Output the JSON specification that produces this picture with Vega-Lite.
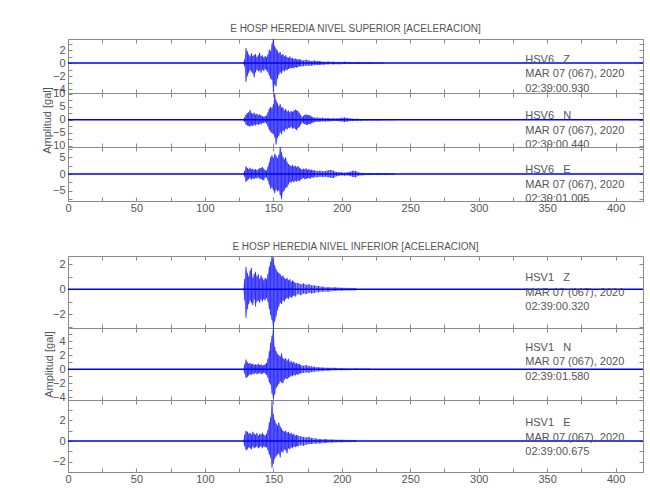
{
"$schema":"https://vega.github.io/schema/vega-lite/v6.json",
"background":"white",
"padding":{"left":40,"top":23,"right":5,"bottom":5},
"config":{"view":{"stroke":"#8a8a8a"},"axis":{"labelFont":"Liberation Sans","labelFontSize":11,"labelColor":"#555","tickColor":"#8a8a8a","titleFont":"Liberation Sans","titleFontSize":11,"titleFontWeight":"normal","titleColor":"#555","grid":false,"domain":false,"labelOverlap":false,"labelFlush":false,"labelPadding":3,"offset":-4,"tickSize":4},"title":{"font":"Liberation Sans","fontSize":10,"fontWeight":"normal","color":"#555","offset":4}},
"datasets":{
"base":[{"p":"A","x0":0,"x1":420},{"p":"B","x0":0,"x1":420},{"p":"C","x0":0,"x1":420},{"p":"D","x0":0,"x1":420},{"p":"E","x0":0,"x1":420},{"p":"F","x0":0,"x1":420}],
"ann":[{"p":"A","txt":["HSV6\u00a0\u00a0\u00a0Z","MAR 07 (067), 2020","02:39:00.930"]},{"p":"B","txt":["HSV6\u00a0\u00a0\u00a0N","MAR 07 (067), 2020","02:39:00.440"]},{"p":"C","txt":["HSV6\u00a0\u00a0\u00a0E","MAR 07 (067), 2020","02:39:01.005"]},{"p":"D","txt":["HSV1\u00a0\u00a0\u00a0Z","MAR 07 (067), 2020","02:39:00.320"]},{"p":"E","txt":["HSV1\u00a0\u00a0\u00a0N","MAR 07 (067), 2020","02:39:01.580"]},{"p":"F","txt":["HSV1\u00a0\u00a0\u00a0E","MAR 07 (067), 2020","02:39:00.675"]}],
"wave":[
{"p":"A","t":128,"h":0.1,"l":-0.1},{"p":"A","t":129,"h":0.6,"l":-0.5},{"p":"A","t":130,"h":2.3,"l":-2.9},{"p":"A","t":131,"h":1.8,"l":-2.0},{"p":"A","t":132,"h":1.3,"l":-1.5},{"p":"A","t":133,"h":1.0,"l":-1.1},{"p":"A","t":134,"h":1.5,"l":-1.3},{"p":"A","t":135,"h":1.1,"l":-1.6},{"p":"A","t":136,"h":1.2,"l":-2.2},{"p":"A","t":137,"h":1.4,"l":-1.4},{"p":"A","t":138,"h":0.9,"l":-1.0},{"p":"A","t":139,"h":1.2,"l":-1.3},{"p":"A","t":140,"h":1.6,"l":-1.1},{"p":"A","t":141,"h":1.0,"l":-1.5},{"p":"A","t":142,"h":1.2,"l":-1.0},{"p":"A","t":143,"h":0.8,"l":-1.2},{"p":"A","t":144,"h":1.1,"l":-0.9},{"p":"A","t":145,"h":0.9,"l":-1.1},{"p":"A","t":146,"h":1.3,"l":-1.4},{"p":"A","t":147,"h":2.1,"l":-1.9},{"p":"A","t":148,"h":1.8,"l":-2.4},{"p":"A","t":149,"h":3.0,"l":-2.6},{"p":"A","t":150,"h":3.7,"l":-4.4},{"p":"A","t":151,"h":2.6,"l":-3.3},{"p":"A","t":152,"h":2.2,"l":-3.6},{"p":"A","t":153,"h":1.9,"l":-2.4},{"p":"A","t":154,"h":1.5,"l":-1.8},{"p":"A","t":155,"h":1.7,"l":-1.4},{"p":"A","t":156,"h":1.2,"l":-1.6},{"p":"A","t":157,"h":1.4,"l":-1.1},{"p":"A","t":158,"h":1.0,"l":-1.3},{"p":"A","t":159,"h":1.2,"l":-1.0},{"p":"A","t":160,"h":0.9,"l":-1.1},{"p":"A","t":161,"h":0.8,"l":-0.9},{"p":"A","t":162,"h":1.0,"l":-0.8},{"p":"A","t":163,"h":0.7,"l":-0.8},{"p":"A","t":164,"h":0.8,"l":-0.7},{"p":"A","t":165,"h":0.6,"l":-0.8},{"p":"A","t":166,"h":0.7,"l":-0.6},{"p":"A","t":167,"h":0.6,"l":-0.7},{"p":"A","t":168,"h":0.5,"l":-0.6},{"p":"A","t":169,"h":0.6,"l":-0.5},{"p":"A","t":170,"h":0.5,"l":-0.5},{"p":"A","t":172,"h":0.4,"l":-0.5},{"p":"A","t":174,"h":0.5,"l":-0.4},{"p":"A","t":176,"h":0.4,"l":-0.4},{"p":"A","t":178,"h":0.3,"l":-0.4},{"p":"A","t":180,"h":0.4,"l":-0.3},{"p":"A","t":182,"h":0.3,"l":-0.3},{"p":"A","t":184,"h":0.3,"l":-0.3},{"p":"A","t":187,"h":0.2,"l":-0.25},{"p":"A","t":190,"h":0.25,"l":-0.2},{"p":"A","t":194,"h":0.2,"l":-0.2},{"p":"A","t":198,"h":0.15,"l":-0.2},{"p":"A","t":202,"h":0.2,"l":-0.15},{"p":"A","t":206,"h":0.15,"l":-0.15},{"p":"A","t":212,"h":0.15,"l":-0.15},{"p":"A","t":220,"h":0.12,"l":-0.12},{"p":"A","t":230,"h":0.12,"l":-0.12},
{"p":"B","t":128,"h":0.2,"l":-0.2},{"p":"B","t":129,"h":1.0,"l":-0.8},{"p":"B","t":130,"h":2.0,"l":-1.9},{"p":"B","t":131,"h":2.5,"l":-2.2},{"p":"B","t":132,"h":2.9,"l":-2.4},{"p":"B","t":133,"h":3.8,"l":-2.6},{"p":"B","t":134,"h":2.6,"l":-2.1},{"p":"B","t":135,"h":2.2,"l":-2.5},{"p":"B","t":136,"h":2.7,"l":-1.8},{"p":"B","t":137,"h":1.9,"l":-2.2},{"p":"B","t":138,"h":2.3,"l":-1.6},{"p":"B","t":139,"h":1.7,"l":-2.0},{"p":"B","t":140,"h":2.1,"l":-1.5},{"p":"B","t":141,"h":1.6,"l":-1.8},{"p":"B","t":142,"h":1.4,"l":-1.3},{"p":"B","t":143,"h":1.1,"l":-1.2},{"p":"B","t":144,"h":1.3,"l":-1.0},{"p":"B","t":145,"h":1.6,"l":-1.4},{"p":"B","t":146,"h":2.8,"l":-2.6},{"p":"B","t":147,"h":4.2,"l":-3.9},{"p":"B","t":148,"h":5.0,"l":-4.6},{"p":"B","t":149,"h":4.4,"l":-5.2},{"p":"B","t":150,"h":6.0,"l":-5.5},{"p":"B","t":151,"h":10.3,"l":-6.8},{"p":"B","t":152,"h":7.5,"l":-9.6},{"p":"B","t":153,"h":6.4,"l":-7.0},{"p":"B","t":154,"h":5.2,"l":-6.2},{"p":"B","t":155,"h":6.1,"l":-4.8},{"p":"B","t":156,"h":4.6,"l":-5.6},{"p":"B","t":157,"h":4.8,"l":-4.1},{"p":"B","t":158,"h":3.6,"l":-4.5},{"p":"B","t":159,"h":4.2,"l":-3.4},{"p":"B","t":160,"h":3.2,"l":-3.8},{"p":"B","t":161,"h":3.6,"l":-3.0},{"p":"B","t":162,"h":2.8,"l":-3.3},{"p":"B","t":163,"h":3.4,"l":-2.7},{"p":"B","t":164,"h":3.0,"l":-3.5},{"p":"B","t":165,"h":3.5,"l":-3.1},{"p":"B","t":166,"h":3.9,"l":-3.6},{"p":"B","t":167,"h":3.6,"l":-4.0},{"p":"B","t":168,"h":3.3,"l":-3.2},{"p":"B","t":169,"h":2.6,"l":-2.8},{"p":"B","t":170,"h":1.8,"l":-1.9},{"p":"B","t":171,"h":1.0,"l":-1.1},{"p":"B","t":172,"h":1.5,"l":-1.4},{"p":"B","t":173,"h":1.9,"l":-1.7},{"p":"B","t":174,"h":2.0,"l":-1.9},{"p":"B","t":175,"h":1.7,"l":-2.0},{"p":"B","t":176,"h":1.9,"l":-1.6},{"p":"B","t":177,"h":1.5,"l":-1.7},{"p":"B","t":178,"h":1.2,"l":-1.3},{"p":"B","t":179,"h":1.0,"l":-1.1},{"p":"B","t":180,"h":0.8,"l":-0.9},{"p":"B","t":182,"h":0.9,"l":-0.8},{"p":"B","t":184,"h":0.7,"l":-0.8},{"p":"B","t":186,"h":0.8,"l":-0.6},{"p":"B","t":188,"h":0.6,"l":-0.7},{"p":"B","t":190,"h":0.7,"l":-0.6},{"p":"B","t":192,"h":0.5,"l":-0.6},{"p":"B","t":194,"h":0.6,"l":-0.5},{"p":"B","t":196,"h":0.5,"l":-0.5},{"p":"B","t":198,"h":0.6,"l":-0.6},{"p":"B","t":200,"h":0.8,"l":-0.7},{"p":"B","t":202,"h":0.9,"l":-0.9},{"p":"B","t":204,"h":0.7,"l":-0.7},{"p":"B","t":206,"h":0.5,"l":-0.5},{"p":"B","t":208,"h":0.4,"l":-0.5},{"p":"B","t":211,"h":0.4,"l":-0.4},{"p":"B","t":214,"h":0.3,"l":-0.4},{"p":"B","t":218,"h":0.3,"l":-0.3},{"p":"B","t":222,"h":0.3,"l":-0.3},{"p":"B","t":227,"h":0.25,"l":-0.25},{"p":"B","t":232,"h":0.25,"l":-0.2},{"p":"B","t":238,"h":0.2,"l":-0.2},
{"p":"C","t":128,"h":0.1,"l":-0.1},{"p":"C","t":129,"h":0.9,"l":-0.8},{"p":"C","t":130,"h":2.3,"l":-2.4},{"p":"C","t":131,"h":1.8,"l":-1.9},{"p":"C","t":132,"h":1.4,"l":-1.6},{"p":"C","t":133,"h":1.9,"l":-1.2},{"p":"C","t":134,"h":1.3,"l":-1.7},{"p":"C","t":135,"h":1.6,"l":-1.3},{"p":"C","t":136,"h":1.2,"l":-1.5},{"p":"C","t":137,"h":1.5,"l":-1.1},{"p":"C","t":138,"h":1.1,"l":-1.3},{"p":"C","t":139,"h":1.4,"l":-1.0},{"p":"C","t":140,"h":1.7,"l":-1.4},{"p":"C","t":141,"h":1.8,"l":-1.5},{"p":"C","t":142,"h":2.1,"l":-1.7},{"p":"C","t":143,"h":1.6,"l":-1.9},{"p":"C","t":144,"h":1.2,"l":-1.1},{"p":"C","t":145,"h":1.0,"l":-1.0},{"p":"C","t":146,"h":2.2,"l":-2.0},{"p":"C","t":147,"h":3.5,"l":-3.2},{"p":"C","t":148,"h":5.0,"l":-4.4},{"p":"C","t":149,"h":5.6,"l":-4.0},{"p":"C","t":150,"h":4.8,"l":-4.9},{"p":"C","t":151,"h":6.1,"l":-5.8},{"p":"C","t":152,"h":5.5,"l":-4.6},{"p":"C","t":153,"h":4.7,"l":-5.2},{"p":"C","t":154,"h":5.8,"l":-4.9},{"p":"C","t":155,"h":8.1,"l":-6.3},{"p":"C","t":156,"h":6.5,"l":-7.6},{"p":"C","t":157,"h":5.1,"l":-5.5},{"p":"C","t":158,"h":4.4,"l":-4.9},{"p":"C","t":159,"h":5.0,"l":-4.2},{"p":"C","t":160,"h":3.6,"l":-3.9},{"p":"C","t":161,"h":3.0,"l":-3.2},{"p":"C","t":162,"h":2.6,"l":-2.4},{"p":"C","t":163,"h":2.3,"l":-2.6},{"p":"C","t":164,"h":2.7,"l":-2.1},{"p":"C","t":165,"h":2.2,"l":-2.5},{"p":"C","t":166,"h":2.5,"l":-2.0},{"p":"C","t":167,"h":2.0,"l":-2.3},{"p":"C","t":168,"h":2.4,"l":-1.9},{"p":"C","t":169,"h":1.9,"l":-2.2},{"p":"C","t":170,"h":1.6,"l":-1.7},{"p":"C","t":171,"h":1.3,"l":-1.4},{"p":"C","t":172,"h":1.6,"l":-1.2},{"p":"C","t":173,"h":1.4,"l":-1.6},{"p":"C","t":174,"h":1.7,"l":-1.4},{"p":"C","t":175,"h":1.2,"l":-1.3},{"p":"C","t":176,"h":1.5,"l":-1.2},{"p":"C","t":177,"h":1.1,"l":-1.4},{"p":"C","t":178,"h":1.3,"l":-1.0},{"p":"C","t":179,"h":1.0,"l":-1.1},{"p":"C","t":180,"h":1.1,"l":-0.9},{"p":"C","t":182,"h":0.9,"l":-1.0},{"p":"C","t":184,"h":1.0,"l":-0.8},{"p":"C","t":186,"h":0.8,"l":-0.9},{"p":"C","t":188,"h":0.9,"l":-0.8},{"p":"C","t":190,"h":1.1,"l":-1.0},{"p":"C","t":192,"h":1.2,"l":-1.1},{"p":"C","t":194,"h":1.0,"l":-1.2},{"p":"C","t":196,"h":0.6,"l":-0.7},{"p":"C","t":198,"h":0.5,"l":-0.5},{"p":"C","t":200,"h":0.5,"l":-0.4},{"p":"C","t":202,"h":0.4,"l":-0.5},{"p":"C","t":204,"h":0.5,"l":-0.4},{"p":"C","t":206,"h":0.7,"l":-0.6},{"p":"C","t":208,"h":1.0,"l":-0.9},{"p":"C","t":210,"h":0.9,"l":-1.0},{"p":"C","t":212,"h":0.5,"l":-0.5},{"p":"C","t":215,"h":0.3,"l":-0.4},{"p":"C","t":220,"h":0.3,"l":-0.3},{"p":"C","t":226,"h":0.3,"l":-0.3},{"p":"C","t":232,"h":0.25,"l":-0.25},{"p":"C","t":238,"h":0.2,"l":-0.2},
{"p":"D","t":128,"h":0.05,"l":-0.05},{"p":"D","t":129,"h":0.8,"l":-0.9},{"p":"D","t":130,"h":1.8,"l":-2.3},{"p":"D","t":131,"h":1.3,"l":-1.6},{"p":"D","t":132,"h":1.0,"l":-1.2},{"p":"D","t":133,"h":1.5,"l":-0.9},{"p":"D","t":134,"h":1.7,"l":-1.1},{"p":"D","t":135,"h":0.9,"l":-1.3},{"p":"D","t":136,"h":1.2,"l":-0.8},{"p":"D","t":137,"h":1.4,"l":-1.4},{"p":"D","t":138,"h":1.0,"l":-1.0},{"p":"D","t":139,"h":1.2,"l":-0.9},{"p":"D","t":140,"h":0.8,"l":-1.1},{"p":"D","t":141,"h":1.1,"l":-0.8},{"p":"D","t":142,"h":0.9,"l":-1.0},{"p":"D","t":143,"h":0.7,"l":-0.8},{"p":"D","t":144,"h":0.9,"l":-0.9},{"p":"D","t":145,"h":0.8,"l":-0.7},{"p":"D","t":146,"h":1.2,"l":-1.0},{"p":"D","t":147,"h":1.8,"l":-1.6},{"p":"D","t":148,"h":2.2,"l":-2.1},{"p":"D","t":149,"h":2.65,"l":-2.5},{"p":"D","t":150,"h":2.4,"l":-3.1},{"p":"D","t":151,"h":1.9,"l":-2.6},{"p":"D","t":152,"h":1.6,"l":-2.2},{"p":"D","t":153,"h":1.4,"l":-1.7},{"p":"D","t":154,"h":1.3,"l":-1.4},{"p":"D","t":155,"h":1.2,"l":-1.1},{"p":"D","t":156,"h":1.0,"l":-1.2},{"p":"D","t":157,"h":1.1,"l":-0.9},{"p":"D","t":158,"h":0.9,"l":-1.0},{"p":"D","t":159,"h":0.8,"l":-0.8},{"p":"D","t":160,"h":0.9,"l":-0.7},{"p":"D","t":161,"h":0.7,"l":-0.8},{"p":"D","t":162,"h":0.8,"l":-0.6},{"p":"D","t":163,"h":0.6,"l":-0.7},{"p":"D","t":164,"h":0.7,"l":-0.6},{"p":"D","t":165,"h":0.6,"l":-0.5},{"p":"D","t":166,"h":0.5,"l":-0.6},{"p":"D","t":168,"h":0.5,"l":-0.4},{"p":"D","t":170,"h":0.4,"l":-0.5},{"p":"D","t":172,"h":0.45,"l":-0.35},{"p":"D","t":174,"h":0.35,"l":-0.4},{"p":"D","t":176,"h":0.4,"l":-0.3},{"p":"D","t":178,"h":0.3,"l":-0.35},{"p":"D","t":180,"h":0.3,"l":-0.3},{"p":"D","t":183,"h":0.25,"l":-0.25},{"p":"D","t":186,"h":0.2,"l":-0.2},{"p":"D","t":190,"h":0.15,"l":-0.2},{"p":"D","t":195,"h":0.15,"l":-0.15},{"p":"D","t":200,"h":0.12,"l":-0.12},{"p":"D","t":210,"h":0.1,"l":-0.1},
{"p":"E","t":128,"h":0.05,"l":-0.05},{"p":"E","t":129,"h":0.7,"l":-0.6},{"p":"E","t":130,"h":1.4,"l":-1.25},{"p":"E","t":131,"h":1.0,"l":-1.1},{"p":"E","t":132,"h":0.8,"l":-0.9},{"p":"E","t":133,"h":0.9,"l":-0.7},{"p":"E","t":134,"h":0.7,"l":-0.8},{"p":"E","t":135,"h":0.8,"l":-0.6},{"p":"E","t":136,"h":0.6,"l":-0.7},{"p":"E","t":137,"h":0.7,"l":-0.5},{"p":"E","t":138,"h":0.6,"l":-0.7},{"p":"E","t":139,"h":0.8,"l":-0.6},{"p":"E","t":140,"h":0.6,"l":-0.5},{"p":"E","t":141,"h":0.7,"l":-0.7},{"p":"E","t":142,"h":0.5,"l":-0.6},{"p":"E","t":143,"h":0.6,"l":-0.5},{"p":"E","t":144,"h":0.7,"l":-0.6},{"p":"E","t":145,"h":0.9,"l":-0.8},{"p":"E","t":146,"h":1.5,"l":-1.2},{"p":"E","t":147,"h":2.6,"l":-1.9},{"p":"E","t":148,"h":3.8,"l":-2.2},{"p":"E","t":149,"h":4.8,"l":-3.5},{"p":"E","t":150,"h":5.9,"l":-4.2},{"p":"E","t":151,"h":3.2,"l":-3.6},{"p":"E","t":152,"h":2.6,"l":-2.7},{"p":"E","t":153,"h":2.2,"l":-2.4},{"p":"E","t":154,"h":2.0,"l":-2.1},{"p":"E","t":155,"h":1.8,"l":-1.7},{"p":"E","t":156,"h":2.3,"l":-1.9},{"p":"E","t":157,"h":1.6,"l":-2.0},{"p":"E","t":158,"h":1.4,"l":-1.5},{"p":"E","t":159,"h":1.6,"l":-1.3},{"p":"E","t":160,"h":1.2,"l":-1.4},{"p":"E","t":161,"h":1.5,"l":-1.2},{"p":"E","t":162,"h":1.0,"l":-1.1},{"p":"E","t":163,"h":1.2,"l":-0.9},{"p":"E","t":164,"h":0.9,"l":-1.0},{"p":"E","t":165,"h":1.1,"l":-0.8},{"p":"E","t":166,"h":0.8,"l":-0.9},{"p":"E","t":167,"h":0.9,"l":-0.7},{"p":"E","t":168,"h":0.7,"l":-0.8},{"p":"E","t":169,"h":0.8,"l":-0.6},{"p":"E","t":170,"h":0.6,"l":-0.6},{"p":"E","t":172,"h":0.5,"l":-0.5},{"p":"E","t":174,"h":0.6,"l":-0.45},{"p":"E","t":176,"h":0.45,"l":-0.5},{"p":"E","t":178,"h":0.4,"l":-0.4},{"p":"E","t":180,"h":0.35,"l":-0.35},{"p":"E","t":183,"h":0.3,"l":-0.3},{"p":"E","t":186,"h":0.25,"l":-0.25},{"p":"E","t":190,"h":0.2,"l":-0.2},{"p":"E","t":195,"h":0.2,"l":-0.15},{"p":"E","t":200,"h":0.15,"l":-0.15},{"p":"E","t":210,"h":0.12,"l":-0.12},{"p":"E","t":220,"h":0.1,"l":-0.1},
{"p":"F","t":128,"h":0.05,"l":-0.05},{"p":"F","t":129,"h":0.6,"l":-0.5},{"p":"F","t":130,"h":1.0,"l":-0.9},{"p":"F","t":131,"h":0.9,"l":-0.8},{"p":"F","t":132,"h":0.7,"l":-0.6},{"p":"F","t":133,"h":0.8,"l":-0.7},{"p":"F","t":134,"h":0.6,"l":-0.8},{"p":"F","t":135,"h":0.9,"l":-0.5},{"p":"F","t":136,"h":0.7,"l":-0.7},{"p":"F","t":137,"h":0.6,"l":-0.6},{"p":"F","t":138,"h":0.8,"l":-0.5},{"p":"F","t":139,"h":0.5,"l":-0.7},{"p":"F","t":140,"h":0.7,"l":-0.6},{"p":"F","t":141,"h":0.6,"l":-0.5},{"p":"F","t":142,"h":0.8,"l":-0.7},{"p":"F","t":143,"h":0.6,"l":-0.5},{"p":"F","t":144,"h":0.5,"l":-0.6},{"p":"F","t":145,"h":0.7,"l":-0.6},{"p":"F","t":146,"h":1.1,"l":-0.9},{"p":"F","t":147,"h":1.8,"l":-1.3},{"p":"F","t":148,"h":2.3,"l":-1.6},{"p":"F","t":149,"h":3.97,"l":-2.6},{"p":"F","t":150,"h":2.6,"l":-2.2},{"p":"F","t":151,"h":2.0,"l":-1.7},{"p":"F","t":152,"h":1.7,"l":-1.5},{"p":"F","t":153,"h":1.5,"l":-1.3},{"p":"F","t":154,"h":1.8,"l":-1.2},{"p":"F","t":155,"h":1.4,"l":-1.6},{"p":"F","t":156,"h":1.2,"l":-1.0},{"p":"F","t":157,"h":1.0,"l":-1.1},{"p":"F","t":158,"h":0.9,"l":-0.8},{"p":"F","t":159,"h":1.0,"l":-0.9},{"p":"F","t":160,"h":0.8,"l":-1.2},{"p":"F","t":161,"h":0.9,"l":-0.7},{"p":"F","t":162,"h":0.7,"l":-0.8},{"p":"F","t":163,"h":0.8,"l":-0.6},{"p":"F","t":164,"h":0.6,"l":-0.7},{"p":"F","t":165,"h":0.7,"l":-0.5},{"p":"F","t":166,"h":0.5,"l":-0.6},{"p":"F","t":167,"h":0.6,"l":-0.5},{"p":"F","t":168,"h":0.5,"l":-0.5},{"p":"F","t":170,"h":0.45,"l":-0.4},{"p":"F","t":172,"h":0.4,"l":-0.45},{"p":"F","t":174,"h":0.35,"l":-0.35},{"p":"F","t":176,"h":0.4,"l":-0.3},{"p":"F","t":178,"h":0.3,"l":-0.3},{"p":"F","t":181,"h":0.25,"l":-0.25},{"p":"F","t":184,"h":0.2,"l":-0.25},{"p":"F","t":188,"h":0.2,"l":-0.2},{"p":"F","t":193,"h":0.15,"l":-0.15},{"p":"F","t":200,"h":0.12,"l":-0.12},{"p":"F","t":210,"h":0.1,"l":-0.1}
]},
"spacing":27,
"vconcat":[
{"spacing":0,"bounds":"flush","vconcat":[
{"width":575,"height":54,"title":{"text":"E HOSP HEREDIA NIVEL SUPERIOR [ACELERACION]"},
"resolve":{"axis":{"x":"independent","y":"independent"}},
"layer":[
{"data":{"name":"wave"},"transform":[{"filter":"datum.p==='A'"}],"mark":{"type":"area","color":"#3030ff","opacity":0.55},
"encoding":{"x":{"field":"t","type":"quantitative","scale":{"domain":[0,420],"nice":false},"axis":{"orient":"bottom","values":[0,25,50,75,100,125,150,175,200,225,250,275,300,325,350,375,400],"labels":false,"title":null}},
"y":{"field":"l","type":"quantitative","scale":{"domain":[-4.6,3.7],"nice":false,"zero":false},"axis":{"orient":"left","values":[-4,-3,-2,-1,0,1,2,3],"labelExpr":"datum.value % 2 === 0 ? datum.label : ''","title":null}},"y2":{"field":"h"}}},
{"data":{"name":"wave"},"transform":[{"filter":"datum.p==='A'"}],"mark":{"type":"rule","color":"#0000ff","strokeWidth":1,"opacity":0.7},
"encoding":{"x":{"field":"t","type":"quantitative","scale":{"domain":[0,420],"nice":false},"axis":{"orient":"top","values":[0,25,50,75,100,125,150,175,200,225,250,275,300,325,350,375,400],"labels":false,"title":null}},
"y":{"field":"l","type":"quantitative","scale":{"domain":[-4.6,3.7],"nice":false,"zero":false},"axis":{"orient":"right","values":[-4,-3,-2,-1,0,1,2,3],"labels":false,"title":null}},"y2":{"field":"h"}}},
{"data":{"name":"base"},"transform":[{"filter":"datum.p==='A'"}],"mark":{"type":"rule","color":"#0000ee","strokeWidth":1.5},
"encoding":{"x":{"field":"x0","type":"quantitative","axis":null},"x2":{"field":"x1"},"y":{"datum":0,"type":"quantitative","axis":null}}},
{"data":{"name":"ann"},"transform":[{"filter":"datum.p==='A'"}],"mark":{"type":"text","align":"left","baseline":"top","font":"Liberation Sans","fontSize":11,"color":"#555","lineHeight":14.5},
"encoding":{"text":{"field":"txt"},"x":{"datum":334,"type":"quantitative","axis":null},"y":{"datum":1.4,"type":"quantitative","axis":null}}}
]},
{"width":575,"height":54,
"resolve":{"axis":{"x":"independent","y":"independent"}},
"layer":[
{"data":{"name":"wave"},"transform":[{"filter":"datum.p==='B'"}],"mark":{"type":"area","color":"#3030ff","opacity":0.55},
"encoding":{"x":{"field":"t","type":"quantitative","scale":{"domain":[0,420],"nice":false},"axis":{"orient":"bottom","values":[0,25,50,75,100,125,150,175,200,225,250,275,300,325,350,375,400],"labels":false,"title":null}},
"y":{"field":"l","type":"quantitative","scale":{"domain":[-10.5,10.3],"nice":false,"zero":false},"axis":{"orient":"left","values":[-10,-7.5,-5,-2.5,0,2.5,5,7.5,10],"labelExpr":"datum.value % 5 === 0 ? datum.label : ''","title":"Amplitud [gal]","titlePadding":-6}},"y2":{"field":"h"}}},
{"data":{"name":"wave"},"transform":[{"filter":"datum.p==='B'"}],"mark":{"type":"rule","color":"#0000ff","strokeWidth":1,"opacity":0.7},
"encoding":{"x":{"field":"t","type":"quantitative","scale":{"domain":[0,420],"nice":false},"axis":{"orient":"top","values":[0,25,50,75,100,125,150,175,200,225,250,275,300,325,350,375,400],"labels":false,"title":null}},
"y":{"field":"l","type":"quantitative","scale":{"domain":[-10.5,10.3],"nice":false,"zero":false},"axis":{"orient":"right","values":[-10,-7.5,-5,-2.5,0,2.5,5,7.5,10],"labels":false,"title":null}},"y2":{"field":"h"}}},
{"data":{"name":"base"},"transform":[{"filter":"datum.p==='B'"}],"mark":{"type":"rule","color":"#0000ee","strokeWidth":1.5},
"encoding":{"x":{"field":"x0","type":"quantitative","axis":null},"x2":{"field":"x1"},"y":{"datum":0,"type":"quantitative","axis":null}}},
{"data":{"name":"ann"},"transform":[{"filter":"datum.p==='B'"}],"mark":{"type":"text","align":"left","baseline":"top","font":"Liberation Sans","fontSize":11,"color":"#555","lineHeight":14.5},
"encoding":{"text":{"field":"txt"},"x":{"datum":334,"type":"quantitative","axis":null},"y":{"datum":3.73,"type":"quantitative","axis":null}}}
]},
{"width":575,"height":54,
"resolve":{"axis":{"x":"independent","y":"independent"}},
"layer":[
{"data":{"name":"wave"},"transform":[{"filter":"datum.p==='C'"}],"mark":{"type":"area","color":"#3030ff","opacity":0.55},
"encoding":{"x":{"field":"t","type":"quantitative","scale":{"domain":[0,420],"nice":false},"axis":{"orient":"bottom","values":[0,25,50,75,100,125,150,175,200,225,250,275,300,325,350,375,400],"labelExpr":"datum.value % 50 === 0 ? datum.label : ''","labelPadding":1,"title":null}},
"y":{"field":"l","type":"quantitative","scale":{"domain":[-8.1,8.1],"nice":false,"zero":false},"axis":{"orient":"left","values":[-7.5,-5,-2.5,0,2.5,5,7.5],"labelExpr":"datum.value % 5 === 0 ? datum.label : ''","title":null}},"y2":{"field":"h"}}},
{"data":{"name":"wave"},"transform":[{"filter":"datum.p==='C'"}],"mark":{"type":"rule","color":"#0000ff","strokeWidth":1,"opacity":0.7},
"encoding":{"x":{"field":"t","type":"quantitative","scale":{"domain":[0,420],"nice":false},"axis":{"orient":"top","values":[0,25,50,75,100,125,150,175,200,225,250,275,300,325,350,375,400],"labels":false,"title":null}},
"y":{"field":"l","type":"quantitative","scale":{"domain":[-8.1,8.1],"nice":false,"zero":false},"axis":{"orient":"right","values":[-7.5,-5,-2.5,0,2.5,5,7.5],"labels":false,"title":null}},"y2":{"field":"h"}}},
{"data":{"name":"base"},"transform":[{"filter":"datum.p==='C'"}],"mark":{"type":"rule","color":"#0000ee","strokeWidth":1.5},
"encoding":{"x":{"field":"x0","type":"quantitative","axis":null},"x2":{"field":"x1"},"y":{"datum":0,"type":"quantitative","axis":null}}},
{"data":{"name":"ann"},"transform":[{"filter":"datum.p==='C'"}],"mark":{"type":"text","align":"left","baseline":"top","font":"Liberation Sans","fontSize":11,"color":"#555","lineHeight":14.5},
"encoding":{"text":{"field":"txt"},"x":{"datum":334,"type":"quantitative","axis":null},"y":{"datum":3.0,"type":"quantitative","axis":null}}}
]}
]},
{"spacing":0,"bounds":"flush","vconcat":[
{"width":575,"height":72,"title":{"text":"E HOSP HEREDIA NIVEL INFERIOR [ACELERACION]"},
"resolve":{"axis":{"x":"independent","y":"independent"}},
"layer":[
{"data":{"name":"wave"},"transform":[{"filter":"datum.p==='D'"}],"mark":{"type":"area","color":"#3030ff","opacity":0.55},
"encoding":{"x":{"field":"t","type":"quantitative","scale":{"domain":[0,420],"nice":false},"axis":{"orient":"bottom","values":[0,25,50,75,100,125,150,175,200,225,250,275,300,325,350,375,400],"labels":false,"title":null}},
"y":{"field":"l","type":"quantitative","scale":{"domain":[-3.12,2.66],"nice":false,"zero":false},"axis":{"orient":"left","values":[-3,-2,-1,0,1,2],"labelExpr":"datum.value % 2 === 0 ? datum.label : ''","title":null}},"y2":{"field":"h"}}},
{"data":{"name":"wave"},"transform":[{"filter":"datum.p==='D'"}],"mark":{"type":"rule","color":"#0000ff","strokeWidth":1,"opacity":0.7},
"encoding":{"x":{"field":"t","type":"quantitative","scale":{"domain":[0,420],"nice":false},"axis":{"orient":"top","values":[0,25,50,75,100,125,150,175,200,225,250,275,300,325,350,375,400],"labels":false,"title":null}},
"y":{"field":"l","type":"quantitative","scale":{"domain":[-3.12,2.66],"nice":false,"zero":false},"axis":{"orient":"right","values":[-3,-2,-1,0,1,2],"labels":false,"title":null}},"y2":{"field":"h"}}},
{"data":{"name":"base"},"transform":[{"filter":"datum.p==='D'"}],"mark":{"type":"rule","color":"#0000ee","strokeWidth":1.5},
"encoding":{"x":{"field":"x0","type":"quantitative","axis":null},"x2":{"field":"x1"},"y":{"datum":0,"type":"quantitative","axis":null}}},
{"data":{"name":"ann"},"transform":[{"filter":"datum.p==='D'"}],"mark":{"type":"text","align":"left","baseline":"top","font":"Liberation Sans","fontSize":11,"color":"#555","lineHeight":14.5},
"encoding":{"text":{"field":"txt"},"x":{"datum":334,"type":"quantitative","axis":null},"y":{"datum":1.37,"type":"quantitative","axis":null}}}
]},
{"width":575,"height":72,
"resolve":{"axis":{"x":"independent","y":"independent"}},
"layer":[
{"data":{"name":"wave"},"transform":[{"filter":"datum.p==='E'"}],"mark":{"type":"area","color":"#3030ff","opacity":0.55},
"encoding":{"x":{"field":"t","type":"quantitative","scale":{"domain":[0,420],"nice":false},"axis":{"orient":"bottom","values":[0,25,50,75,100,125,150,175,200,225,250,275,300,325,350,375,400],"labels":false,"title":null}},
"y":{"field":"l","type":"quantitative","scale":{"domain":[-4.4,5.9],"nice":false,"zero":false},"axis":{"orient":"left","values":[-4,-3,-2,-1,0,1,2,3,4,5],"labelExpr":"datum.value % 2 === 0 ? datum.label : ''","title":"Amplitud [gal]","titlePadding":-2}},"y2":{"field":"h"}}},
{"data":{"name":"wave"},"transform":[{"filter":"datum.p==='E'"}],"mark":{"type":"rule","color":"#0000ff","strokeWidth":1,"opacity":0.7},
"encoding":{"x":{"field":"t","type":"quantitative","scale":{"domain":[0,420],"nice":false},"axis":{"orient":"top","values":[0,25,50,75,100,125,150,175,200,225,250,275,300,325,350,375,400],"labels":false,"title":null}},
"y":{"field":"l","type":"quantitative","scale":{"domain":[-4.4,5.9],"nice":false,"zero":false},"axis":{"orient":"right","values":[-4,-3,-2,-1,0,1,2,3,4,5],"labels":false,"title":null}},"y2":{"field":"h"}}},
{"data":{"name":"base"},"transform":[{"filter":"datum.p==='E'"}],"mark":{"type":"rule","color":"#0000ee","strokeWidth":1.5},
"encoding":{"x":{"field":"x0","type":"quantitative","axis":null},"x2":{"field":"x1"},"y":{"datum":0,"type":"quantitative","axis":null}}},
{"data":{"name":"ann"},"transform":[{"filter":"datum.p==='E'"}],"mark":{"type":"text","align":"left","baseline":"top","font":"Liberation Sans","fontSize":11,"color":"#555","lineHeight":14.5},
"encoding":{"text":{"field":"txt"},"x":{"datum":334,"type":"quantitative","axis":null},"y":{"datum":3.93,"type":"quantitative","axis":null}}}
]},
{"width":575,"height":72,
"resolve":{"axis":{"x":"independent","y":"independent"}},
"layer":[
{"data":{"name":"wave"},"transform":[{"filter":"datum.p==='F'"}],"mark":{"type":"area","color":"#3030ff","opacity":0.55},
"encoding":{"x":{"field":"t","type":"quantitative","scale":{"domain":[0,420],"nice":false},"axis":{"orient":"bottom","values":[0,25,50,75,100,125,150,175,200,225,250,275,300,325,350,375,400],"labelExpr":"datum.value % 50 === 0 ? datum.label : ''","labelPadding":1,"title":null}},
"y":{"field":"l","type":"quantitative","scale":{"domain":[-3.0,3.97],"nice":false,"zero":false},"axis":{"orient":"left","values":[-3,-2,-1,0,1,2,3],"labelExpr":"datum.value % 2 === 0 ? datum.label : ''","title":null}},"y2":{"field":"h"}}},
{"data":{"name":"wave"},"transform":[{"filter":"datum.p==='F'"}],"mark":{"type":"rule","color":"#0000ff","strokeWidth":1,"opacity":0.7},
"encoding":{"x":{"field":"t","type":"quantitative","scale":{"domain":[0,420],"nice":false},"axis":{"orient":"top","values":[0,25,50,75,100,125,150,175,200,225,250,275,300,325,350,375,400],"labels":false,"title":null}},
"y":{"field":"l","type":"quantitative","scale":{"domain":[-3.0,3.97],"nice":false,"zero":false},"axis":{"orient":"right","values":[-3,-2,-1,0,1,2,3],"labels":false,"title":null}},"y2":{"field":"h"}}},
{"data":{"name":"base"},"transform":[{"filter":"datum.p==='F'"}],"mark":{"type":"rule","color":"#0000ee","strokeWidth":1.5},
"encoding":{"x":{"field":"x0","type":"quantitative","axis":null},"x2":{"field":"x1"},"y":{"datum":0,"type":"quantitative","axis":null}}},
{"data":{"name":"ann"},"transform":[{"filter":"datum.p==='F'"}],"mark":{"type":"text","align":"left","baseline":"top","font":"Liberation Sans","fontSize":11,"color":"#555","lineHeight":14.5},
"encoding":{"text":{"field":"txt"},"x":{"datum":334,"type":"quantitative","axis":null},"y":{"datum":2.3,"type":"quantitative","axis":null}}}
]}
]}
]
}
